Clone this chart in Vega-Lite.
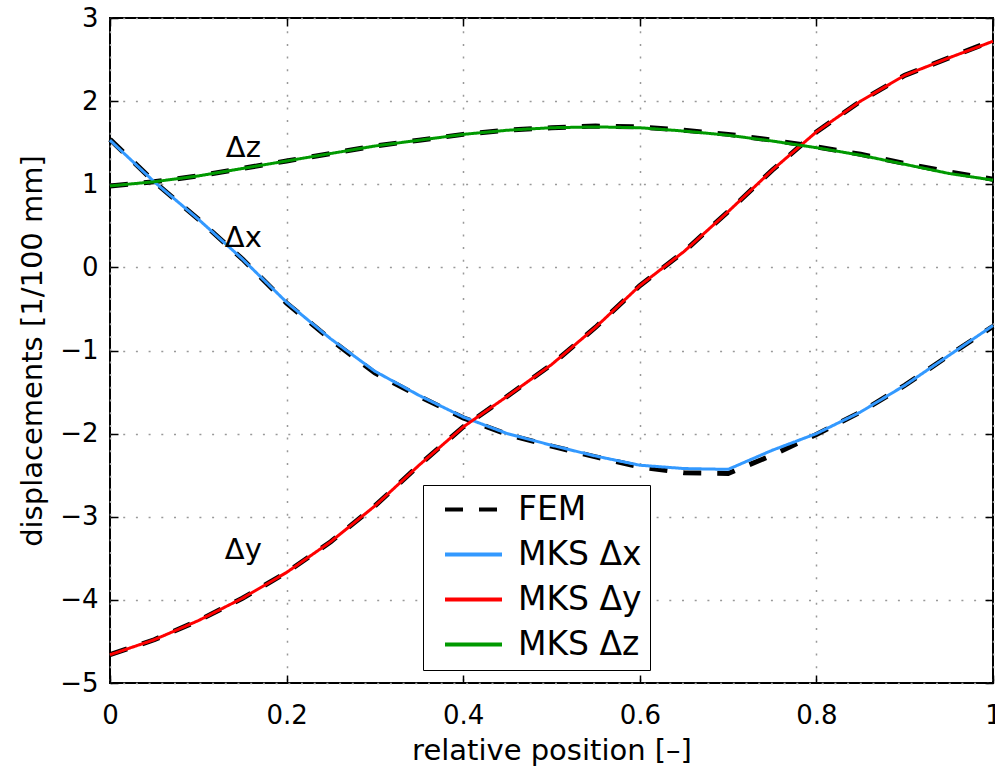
{
  "$schema": "https://vega.github.io/schema/vega-lite/v6.json",
  "width": 883,
  "height": 665,
  "autosize": {"type": "none"},
  "padding": {"left": 110, "top": 18, "right": 2, "bottom": 90},
  "background": "white",
  "config": {
    "view": {"stroke": "#000", "strokeWidth": 2},
    "font": "DejaVu Sans",
    "axis": {
      "labelFont": "DejaVu Sans", "titleFont": "DejaVu Sans",
      "labelFontSize": 26, "titleFontSize": 29, "titleFontWeight": "normal",
      "labelColor": "#000", "titleColor": "#000",
      "tickColor": "#000", "tickSize": -8, "tickWidth": 1.5,
      "domain": false,
      "gridColor": "#999", "gridDash": [2, 10.7], "gridWidth": 1.5
    },
    "legend": {
      "orient": "none", "legendX": 313, "legendY": 467,
      "symbolType": "stroke", "symbolSize": 3249, "clipHeight": 33, "symbolStrokeWidth": 4,
      "labelFont": "DejaVu Sans", "labelFontSize": 33, "labelColor": "#000",
      "rowPadding": 11, "padding": 8, "strokeColor": "#000", "fillColor": "#fff",
      "symbolOffset": 12, "labelOffset": 14, "title": null, "labelLimit": 400
    }
  },
  "data": {"values": [
    {"x":0,"label":"MKS Δx","curve":"x","y":1.53},
    {"x":0.05,"label":"MKS Δx","curve":"x","y":1.03},
    {"x":0.1,"label":"MKS Δx","curve":"x","y":0.58},
    {"x":0.15,"label":"MKS Δx","curve":"x","y":0.10},
    {"x":0.2,"label":"MKS Δx","curve":"x","y":-0.42},
    {"x":0.25,"label":"MKS Δx","curve":"x","y":-0.86},
    {"x":0.3,"label":"MKS Δx","curve":"x","y":-1.25},
    {"x":0.35,"label":"MKS Δx","curve":"x","y":-1.54},
    {"x":0.4,"label":"MKS Δx","curve":"x","y":-1.80},
    {"x":0.45,"label":"MKS Δx","curve":"x","y":-2.00},
    {"x":0.5,"label":"MKS Δx","curve":"x","y":-2.14},
    {"x":0.55,"label":"MKS Δx","curve":"x","y":-2.27},
    {"x":0.6,"label":"MKS Δx","curve":"x","y":-2.38},
    {"x":0.65,"label":"MKS Δx","curve":"x","y":-2.42},
    {"x":0.7,"label":"MKS Δx","curve":"x","y":-2.43},
    {"x":0.75,"label":"MKS Δx","curve":"x","y":-2.20},
    {"x":0.8,"label":"MKS Δx","curve":"x","y":-2.00},
    {"x":0.85,"label":"MKS Δx","curve":"x","y":-1.74},
    {"x":0.9,"label":"MKS Δx","curve":"x","y":-1.42},
    {"x":0.95,"label":"MKS Δx","curve":"x","y":-1.06},
    {"x":1,"label":"MKS Δx","curve":"x","y":-0.70},

    {"x":0,"label":"MKS Δy","curve":"y","y":-4.66},
    {"x":0.05,"label":"MKS Δy","curve":"y","y":-4.48},
    {"x":0.1,"label":"MKS Δy","curve":"y","y":-4.25},
    {"x":0.15,"label":"MKS Δy","curve":"y","y":-3.98},
    {"x":0.2,"label":"MKS Δy","curve":"y","y":-3.67},
    {"x":0.25,"label":"MKS Δy","curve":"y","y":-3.30},
    {"x":0.3,"label":"MKS Δy","curve":"y","y":-2.87},
    {"x":0.35,"label":"MKS Δy","curve":"y","y":-2.38},
    {"x":0.4,"label":"MKS Δy","curve":"y","y":-1.92},
    {"x":0.45,"label":"MKS Δy","curve":"y","y":-1.55},
    {"x":0.5,"label":"MKS Δy","curve":"y","y":-1.17},
    {"x":0.55,"label":"MKS Δy","curve":"y","y":-0.72},
    {"x":0.6,"label":"MKS Δy","curve":"y","y":-0.22},
    {"x":0.65,"label":"MKS Δy","curve":"y","y":0.19},
    {"x":0.7,"label":"MKS Δy","curve":"y","y":0.67},
    {"x":0.75,"label":"MKS Δy","curve":"y","y":1.17},
    {"x":0.8,"label":"MKS Δy","curve":"y","y":1.63},
    {"x":0.85,"label":"MKS Δy","curve":"y","y":2.00},
    {"x":0.9,"label":"MKS Δy","curve":"y","y":2.31},
    {"x":0.95,"label":"MKS Δy","curve":"y","y":2.52},
    {"x":1,"label":"MKS Δy","curve":"y","y":2.72},

    {"x":0,"label":"MKS Δz","curve":"z","y":0.98},
    {"x":0.05,"label":"MKS Δz","curve":"z","y":1.03},
    {"x":0.1,"label":"MKS Δz","curve":"z","y":1.10},
    {"x":0.15,"label":"MKS Δz","curve":"z","y":1.19},
    {"x":0.2,"label":"MKS Δz","curve":"z","y":1.28},
    {"x":0.25,"label":"MKS Δz","curve":"z","y":1.37},
    {"x":0.3,"label":"MKS Δz","curve":"z","y":1.46},
    {"x":0.35,"label":"MKS Δz","curve":"z","y":1.53},
    {"x":0.4,"label":"MKS Δz","curve":"z","y":1.60},
    {"x":0.45,"label":"MKS Δz","curve":"z","y":1.65},
    {"x":0.5,"label":"MKS Δz","curve":"z","y":1.68},
    {"x":0.55,"label":"MKS Δz","curve":"z","y":1.69},
    {"x":0.6,"label":"MKS Δz","curve":"z","y":1.68},
    {"x":0.65,"label":"MKS Δz","curve":"z","y":1.64},
    {"x":0.7,"label":"MKS Δz","curve":"z","y":1.59},
    {"x":0.75,"label":"MKS Δz","curve":"z","y":1.52},
    {"x":0.8,"label":"MKS Δz","curve":"z","y":1.44},
    {"x":0.85,"label":"MKS Δz","curve":"z","y":1.35},
    {"x":0.9,"label":"MKS Δz","curve":"z","y":1.24},
    {"x":0.95,"label":"MKS Δz","curve":"z","y":1.13},
    {"x":1,"label":"MKS Δz","curve":"z","y":1.05},

    {"x":0,"label":"FEM","curve":"x","y":1.54},
    {"x":0.05,"label":"FEM","curve":"x","y":1.03},
    {"x":0.1,"label":"FEM","curve":"x","y":0.58},
    {"x":0.15,"label":"FEM","curve":"x","y":0.10},
    {"x":0.2,"label":"FEM","curve":"x","y":-0.43},
    {"x":0.25,"label":"FEM","curve":"x","y":-0.87},
    {"x":0.3,"label":"FEM","curve":"x","y":-1.27},
    {"x":0.35,"label":"FEM","curve":"x","y":-1.55},
    {"x":0.4,"label":"FEM","curve":"x","y":-1.81},
    {"x":0.45,"label":"FEM","curve":"x","y":-2.01},
    {"x":0.5,"label":"FEM","curve":"x","y":-2.15},
    {"x":0.55,"label":"FEM","curve":"x","y":-2.28},
    {"x":0.6,"label":"FEM","curve":"x","y":-2.40},
    {"x":0.65,"label":"FEM","curve":"x","y":-2.47},
    {"x":0.7,"label":"FEM","curve":"x","y":-2.48},
    {"x":0.75,"label":"FEM","curve":"x","y":-2.26},
    {"x":0.8,"label":"FEM","curve":"x","y":-2.01},
    {"x":0.85,"label":"FEM","curve":"x","y":-1.74},
    {"x":0.9,"label":"FEM","curve":"x","y":-1.42},
    {"x":0.95,"label":"FEM","curve":"x","y":-1.06},
    {"x":1,"label":"FEM","curve":"x","y":-0.71},

    {"x":0,"label":"FEM","curve":"y","y":-4.66},
    {"x":0.05,"label":"FEM","curve":"y","y":-4.48},
    {"x":0.1,"label":"FEM","curve":"y","y":-4.25},
    {"x":0.15,"label":"FEM","curve":"y","y":-3.98},
    {"x":0.2,"label":"FEM","curve":"y","y":-3.67},
    {"x":0.25,"label":"FEM","curve":"y","y":-3.30},
    {"x":0.3,"label":"FEM","curve":"y","y":-2.87},
    {"x":0.35,"label":"FEM","curve":"y","y":-2.38},
    {"x":0.4,"label":"FEM","curve":"y","y":-1.92},
    {"x":0.45,"label":"FEM","curve":"y","y":-1.55},
    {"x":0.5,"label":"FEM","curve":"y","y":-1.17},
    {"x":0.55,"label":"FEM","curve":"y","y":-0.72},
    {"x":0.6,"label":"FEM","curve":"y","y":-0.22},
    {"x":0.65,"label":"FEM","curve":"y","y":0.19},
    {"x":0.7,"label":"FEM","curve":"y","y":0.67},
    {"x":0.75,"label":"FEM","curve":"y","y":1.17},
    {"x":0.8,"label":"FEM","curve":"y","y":1.63},
    {"x":0.85,"label":"FEM","curve":"y","y":2.00},
    {"x":0.9,"label":"FEM","curve":"y","y":2.31},
    {"x":0.95,"label":"FEM","curve":"y","y":2.52},
    {"x":1,"label":"FEM","curve":"y","y":2.73},

    {"x":0,"label":"FEM","curve":"z","y":0.98},
    {"x":0.05,"label":"FEM","curve":"z","y":1.03},
    {"x":0.1,"label":"FEM","curve":"z","y":1.10},
    {"x":0.15,"label":"FEM","curve":"z","y":1.19},
    {"x":0.2,"label":"FEM","curve":"z","y":1.28},
    {"x":0.25,"label":"FEM","curve":"z","y":1.37},
    {"x":0.3,"label":"FEM","curve":"z","y":1.46},
    {"x":0.35,"label":"FEM","curve":"z","y":1.53},
    {"x":0.4,"label":"FEM","curve":"z","y":1.60},
    {"x":0.45,"label":"FEM","curve":"z","y":1.65},
    {"x":0.5,"label":"FEM","curve":"z","y":1.68},
    {"x":0.55,"label":"FEM","curve":"z","y":1.70},
    {"x":0.6,"label":"FEM","curve":"z","y":1.69},
    {"x":0.65,"label":"FEM","curve":"z","y":1.65},
    {"x":0.7,"label":"FEM","curve":"z","y":1.60},
    {"x":0.75,"label":"FEM","curve":"z","y":1.53},
    {"x":0.8,"label":"FEM","curve":"z","y":1.45},
    {"x":0.85,"label":"FEM","curve":"z","y":1.36},
    {"x":0.9,"label":"FEM","curve":"z","y":1.25},
    {"x":0.95,"label":"FEM","curve":"z","y":1.15},
    {"x":1,"label":"FEM","curve":"z","y":1.06}
  ]},
  "resolve": {"axis": {"x": "independent", "y": "independent"}},
  "layer": [
    {
      "transform": [{"filter": "datum.label === 'FEM'"}],
      "mark": {"type": "line", "strokeCap": "butt", "strokeWidth": 5},
      "encoding": {
        "x": {"field": "x", "type": "quantitative",
              "scale": {"domain": [0, 1], "nice": false, "zero": false},
              "axis": {"orient": "bottom", "values": [0, 0.2, 0.4, 0.6, 0.8, 1], "format": ".1~f",
                       "labelFlush": false, "labelPadding": 27, "title": "relative position [–]",
                       "titlePadding": 8, "grid": true}},
        "y": {"field": "y", "type": "quantitative",
              "scale": {"domain": [-5, 3], "nice": false, "zero": false},
              "axis": {"orient": "left", "values": [-5, -4, -3, -2, -1, 0, 1, 2, 3],
                       "labelPadding": 20, "labelFlush": false, "title": "displacements [1/100 mm]",
                       "titlePadding": 12, "grid": true}},
        "detail": {"field": "curve"},
        "color": {"field": "label", "type": "nominal",
                  "scale": {"domain": ["FEM", "MKS Δx", "MKS Δy", "MKS Δz"],
                            "range": ["#000000", "#3399ff", "#ff0000", "#009900"]}},
        "strokeDash": {"field": "label", "type": "nominal",
                       "scale": {"domain": ["FEM", "MKS Δx", "MKS Δy", "MKS Δz"],
                                 "range": [[18, 16], [1, 0], [1, 0], [1, 0]]}},
        "order": {"field": "x", "type": "quantitative"}
      }
    },
    {
      "transform": [{"filter": "datum.label !== 'FEM'"}],
      "mark": {"type": "line", "strokeWidth": 3},
      "encoding": {
        "x": {"field": "x", "type": "quantitative",
              "axis": {"orient": "top", "values": [0, 0.2, 0.4, 0.6, 0.8, 1], "labels": false,
                       "title": null, "grid": false}},
        "y": {"field": "y", "type": "quantitative",
              "axis": {"orient": "right", "values": [-5, -4, -3, -2, -1, 0, 1, 2, 3], "labels": false,
                       "title": null, "grid": false}},
        "color": {"field": "label", "type": "nominal"},
        "strokeDash": {"field": "label", "type": "nominal"},
        "order": {"field": "x", "type": "quantitative"}
      }
    },
    {
      "data": {"values": [
        {"x": 0.151, "y": 1.33, "text": "Δz"},
        {"x": 0.151, "y": 0.25, "text": "Δx"},
        {"x": 0.151, "y": -3.51, "text": "Δy"}
      ]},
      "mark": {"type": "text", "font": "DejaVu Sans", "fontSize": 29, "align": "center", "baseline": "alphabetic", "color": "#000"},
      "encoding": {
        "x": {"field": "x", "type": "quantitative", "axis": null},
        "y": {"field": "y", "type": "quantitative", "axis": null},
        "text": {"field": "text"}
      }
    }
  ]
}
